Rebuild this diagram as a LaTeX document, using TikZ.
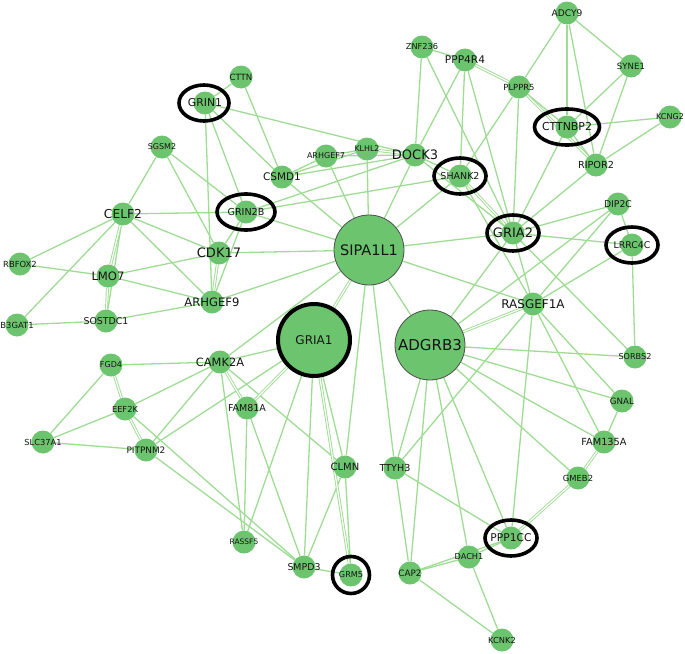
\documentclass[tikz,border=0pt]{standalone}
\usepackage{fontspec}
\setmainfont{DejaVu Sans}
\pgfdeclarelayer{edgelayer}
\pgfsetlayers{edgelayer,main}
\definecolor{nodegreen}{RGB}{108,197,110}
\definecolor{edgegreen}{RGB}{158,220,148}
\definecolor{txt}{RGB}{20,20,20}
\tikzset{
 fs/.style={font=\fontsize{#1}{#1}\selectfont},
 gn/.style 2 args={circle, fill=nodegreen, minimum size=23pt, inner sep=0pt,
   label={[text=txt, inner sep=0pt, fs=#1]center:#2}},
 bign/.style 2 args={circle, fill=nodegreen, draw=black!70, line width=0.8pt, minimum size=70pt, inner sep=0pt,
   label={[text=txt, inner sep=0pt, fs=#1]center:#2}},
 ed/.style={draw=edgegreen, line width=1.3pt},
 dbl/.style={draw=edgegreen, double=white, double distance=1.2pt, line width=0.9pt},
 ring/.style={draw=black, line width=3.6pt},
}
\begin{document}
\begin{tikzpicture}[x=1pt,y=-1pt]
\useasboundingbox (0,0) rectangle (685,653);
% nodes
\node[gn={9.1}{ADCY9}] (adcy9) at (567,13) {};
\node[gn={8.2}{ZNF236}] (znf236) at (422,47) {};
\node[gn={10.6}{PPP4R4}] (ppp4r4) at (465,60) {};
\node[gn={8.6}{SYNE1}] (syne1) at (631,66) {};
\node[gn={8.4}{PLPPR5}] (plppr5) at (519,87) {};
\node[gn={8.6}{CTTN}] (cttn) at (241,77) {};
\node[gn={10.8}{GRIN1}] (grin1) at (205,103) {};
\node[gn={8}{KCNG2}] (kcng2) at (670,117) {};
\node[gn={10.9}{CTTNBP2}] (cttnbp2) at (567,127) {};
\node[gn={7.9}{KLHL2}] (klhl2) at (367,149) {};
\node[gn={8}{ARHGEF7}] (arhgef7) at (326,156) {};
\node[gn={13}{DOCK3}] (dock3) at (415,155) {};
\node[gn={8}{SGSM2}] (sgsm2) at (162,147) {};
\node[gn={10.5}{CSMD1}] (csmd1) at (282,177) {};
\node[gn={9.5}{SHANK2}] (shank2) at (460,176) {};
\node[gn={9.7}{RIPOR2}] (ripor2) at (596,165) {};
\node[gn={9.6}{GRIN2B}] (grin2b) at (246,212) {};
\node[gn={12.3}{CELF2}] (celf2) at (123,214) {};
\node[gn={9.3}{DIP2C}] (dip2c) at (618,204) {};
\node[gn={13}{GRIA2}] (gria2) at (513,233) {};
\node[gn={9.3}{LRRC4C}] (lrrc4c) at (632,245) {};
\node[bign={14.5}{SIPA1L1}] (sipa) at (369,250) {};
\node[gn={13}{CDK17}] (cdk17) at (219,253) {};
\node[gn={8.4}{RBFOX2}] (rbfox2) at (20,264) {};
\node[gn={11.6}{LMO7}] (lmo7) at (108,276) {};
\node[gn={11.6}{ARHGEF9}] (arhgef9) at (212,302) {};
\node[gn={12}{RASGEF1A}] (rasgef1a) at (533,304) {};
\node[gn={8.4}{B3GAT1}] (b3gat1) at (17,325) {};
\node[gn={9.4}{SOSTDC1}] (sostdc1) at (106,321) {};
\node[circle, fill=nodegreen, draw=black, line width=4pt, minimum size=72pt, inner sep=0pt,
   label={[text=txt, inner sep=0pt, fs=12]center:GRIA1}] (gria1) at (314,340) {};
\node[bign={15}{ADGRB3}] (adgrb3) at (430,345) {};
\node[gn={8.1}{SORBS2}] (sorbs2) at (635,357) {};
\node[gn={8}{FGD4}] (fgd4) at (111,365) {};
\node[gn={11.4}{CAMK2A}] (camk2a) at (220,362) {};
\node[gn={9.5}{FAM81A}] (fam81a) at (247,408) {};
\node[gn={8.3}{EEF2K}] (eef2k) at (125,409) {};
\node[gn={8.7}{GNAL}] (gnal) at (622,401) {};
\node[gn={8.3}{SLC37A1}] (slc37a1) at (43,442) {};
\node[gn={8.9}{PITPNM2}] (pitpnm2) at (146,450) {};
\node[gn={9.8}{FAM135A}] (fam135a) at (604,442) {};
\node[gn={10}{CLMN}] (clmn) at (345,467) {};
\node[gn={9.6}{TTYH3}] (ttyh3) at (395,468) {};
\node[gn={8.4}{GMEB2}] (gmeb2) at (578,478) {};
\node[gn={7.5}{RASSF5}] (rassf5) at (244,542) {};
\node[gn={9.4}{SMPD3}] (smpd3) at (304,567) {};
\node[gn={8.1}{GRM5}] (grm5) at (351,575) {};
\node[gn={8.8}{CAP2}] (cap2) at (410,573) {};
\node[gn={10.7}{PPP1CC}] (ppp1cc) at (511,538) {};
\node[gn={8.2}{DACH1}] (dach1) at (469,557) {};
\node[gn={8.3}{KCNK2}] (kcnk2) at (502,640) {};
% edges
\begin{pgfonlayer}{edgelayer}
\foreach \a/\b in {grin1/cttn, cttn/csmd1, grin1/dock3, grin1/csmd1, csmd1/sipa, grin1/grin2b, grin1/arhgef9,
  sgsm2/celf2, sgsm2/grin2b, sgsm2/cdk17, grin2b/cdk17, grin2b/arhgef9, celf2/grin2b, grin2b/shank2,
  grin2b/dock3, grin2b/sipa, cdk17/sipa, arhgef9/sipa, csmd1/arhgef7, csmd1/dock3, csmd1/klhl2,
  arhgef7/klhl2, arhgef7/dock3, arhgef7/sipa, klhl2/sipa, dock3/sipa, dock3/shank2, shank2/sipa,
  sipa/gria2, sipa/rasgef1a, sipa/adgrb3, sipa/clmn, sipa/ttyh3, camk2a/sipa,
  celf2/rbfox2, celf2/b3gat1, celf2/sostdc1, celf2/cdk17, celf2/arhgef9, rbfox2/lmo7, lmo7/cdk17,
  lmo7/arhgef9, b3gat1/sostdc1, sostdc1/arhgef9,
  fgd4/camk2a, fgd4/slc37a1, eef2k/slc37a1, slc37a1/pitpnm2, eef2k/camk2a, eef2k/smpd3, pitpnm2/smpd3,
  pitpnm2/camk2a, pitpnm2/gria1, camk2a/gria1, camk2a/rassf5, fam81a/rassf5, camk2a/clmn, fam81a/smpd3,
  gria1/rassf5, gria1/smpd3, gria1/clmn, clmn/grm5, clmn/smpd3, smpd3/grm5,
  adgrb3/ttyh3, adgrb3/cap2, adgrb3/dach1, adgrb3/ppp1cc, adgrb3/gmeb2, adgrb3/fam135a, adgrb3/gnal,
  adgrb3/sorbs2, adgrb3/gria2, adgrb3/dip2c, ttyh3/rasgef1a, ttyh3/cap2, ttyh3/ppp1cc,
  rasgef1a/ppp1cc, rasgef1a/fam135a, rasgef1a/gnal, gnal/fam135a, cap2/dach1, cap2/ppp1cc,
  dach1/ppp1cc, dach1/kcnk2, cap2/kcnk2,
  znf236/ppp4r4, znf236/dock3, znf236/gria2, ppp4r4/dock3, ppp4r4/shank2, ppp4r4/gria2,
  plppr5/cttnbp2, plppr5/adcy9, plppr5/shank2, plppr5/gria2, adcy9/cttnbp2, adcy9/ripor2, adcy9/syne1,
  syne1/cttnbp2, syne1/ripor2, cttnbp2/kcng2, kcng2/ripor2, cttnbp2/ripor2, cttnbp2/gria2, ripor2/gria2,
  dip2c/gria2, dip2c/lrrc4c, dip2c/rasgef1a, lrrc4c/gria2, lrrc4c/rasgef1a, lrrc4c/sorbs2,
  shank2/rasgef1a, dock3/gria2, gria2/rasgef1a, gria2/sorbs2}
  \draw[ed] (\a) -- (\b);
\foreach \a/\b in {cdk17/arhgef9, klhl2/dock3, sipa/gria1, celf2/lmo7, lmo7/sostdc1, fgd4/eef2k,
  eef2k/pitpnm2, camk2a/fam81a, gria1/fam81a, gria1/grm5, adgrb3/rasgef1a, fam135a/gmeb2, gmeb2/ppp1cc,
  ppp4r4/plppr5, plppr5/ripor2, shank2/gria2}
  \draw[dbl] (\a) -- (\b);
\end{pgfonlayer}
% rings
\draw[ring] ([xshift=-1pt]grin1.center) ellipse [x radius=25pt, y radius=18pt];
\draw[ring] (grin2b.center) ellipse [x radius=29pt, y radius=18pt];
\draw[ring] (shank2.center) ellipse [x radius=26pt, y radius=18pt];
\draw[ring] (cttnbp2.center) ellipse [x radius=32.5pt, y radius=18pt];
\draw[ring] (gria2.center) ellipse [x radius=26pt, y radius=18pt];
\draw[ring] (lrrc4c.center) ellipse [x radius=26pt, y radius=18pt];
\draw[ring] (ppp1cc.center) ellipse [x radius=26pt, y radius=18pt];
\draw[ring] (grm5.center) circle [radius=18.5pt];
\end{tikzpicture}
\end{document}
